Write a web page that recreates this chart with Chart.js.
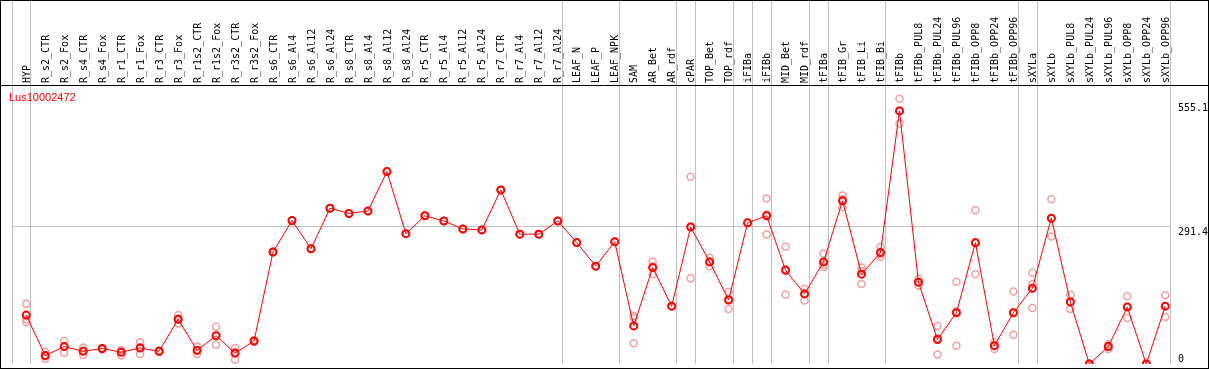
<!DOCTYPE html>
<html>
<head>
<meta charset="utf-8">
<script src="https://cdn.jsdelivr.net/npm/chart.js@4.4.0/dist/chart.umd.min.js"></script>
<style>
    html, body { margin: 0; padding: 0; background: #fff; }
    #wrap { width: 1209px; height: 370px; }
</style>
</head>
<body>
<div id="wrap"><canvas id="myChart" width="1209" height="370"></canvas></div>
<script>
const geneName = 'Lus10002472';

const categories = [
    'HYP', 'R_s2_CTR', 'R_s2_Fox', 'R_s4_CTR', 'R_s4_Fox', 'R_r1_CTR', 'R_r1_Fox', 'R_r3_CTR', 'R_r3_Fox',
    'R_r1s2_CTR', 'R_r1s2_Fox', 'R_r3s2_CTR', 'R_r3s2_Fox', 'R_s6_CTR', 'R_s6_Al4', 'R_s6_Al12', 'R_s6_Al24',
    'R_s8_CTR', 'R_s8_Al4', 'R_s8_Al12', 'R_s8_Al24', 'R_r5_CTR', 'R_r5_Al4', 'R_r5_Al12', 'R_r5_Al24',
    'R_r7_CTR', 'R_r7_Al4', 'R_r7_Al12', 'R_r7_Al24', 'LEAF_N', 'LEAF_P', 'LEAF_NPK', 'SAM', 'AR_Bet', 'AR_rdf',
    'cPAR', 'TOP_Bet', 'TOP_rdf', 'iFIBa', 'iFIBb', 'MID_Bet', 'MID_rdf', 'tFIBa', 'tFIB_Gr', 'tFIB_Li', 'tFIB_Bi',
    'tFIBb', 'tFIBb_PUL8', 'tFIBb_PUL24', 'tFIBb_PUL96', 'tFIBb_OPP8', 'tFIBb_OPP24', 'tFIBb_OPP96',
    'sXYLa', 'sXYLb', 'sXYLb_PUL8', 'sXYLb_PUL24', 'sXYLb_PUL96', 'sXYLb_OPP8', 'sXYLb_OPP24', 'sXYLb_OPP96'
];

// mean expression per sample (red line)
const meanValues = [
    104, 18, 37, 27, 33, 25, 34, 27, 95, 29, 60, 23, 49, 238, 305, 245, 331,
    320, 325, 409, 277, 315, 304, 287, 285, 370, 276, 276, 304, 258, 208, 260,
    81, 205, 123, 291, 217, 136, 300, 315, 199, 149, 217, 347, 191, 237,
    538, 174, 52, 109, 258, 39, 109, 161, 310, 132, 0, 37, 121, 0, 123
];

// replicates (pale circles)
const rep1 = [
    128, 26, 49, 35, 34, 30, 46, 29, 104, 37, 79, 34, 51, 239, 305, 246, 331,
    320, 325, 409, 277, 315, 304, 287, 285, 370, 276, 276, 304, 258, 208, 260,
    98, 218, 124, 398, 226, 153, 300, 352, 249, 160, 235, 358, 205, 249,
    564, 181, 81, 175, 327, 46, 154, 194, 350, 147, 1, 42, 144, 0, 146
];
const rep2 = [
    95, 17, 37, 28, 33, 28, 36, 27, 96, 29, 60, 26, 49, 238, 305, 245, 331,
    320, 325, 409, 277, 315, 304, 287, 285, 370, 276, 276, 304, 258, 208, 260,
    44, 191, 122, 182, 208, 117, 300, 275, 147, 135, 206, 333, 170, 228,
    511, 167, 20, 39, 191, 32, 62, 119, 271, 117, 0, 32, 98, 1, 100
];
const rep3 = [
    89, 11, 24, 19, 31, 18, 21, 26, 86, 21, 41, 9, 47, 238, 305, 245, 331,
    320, 325, 409, 277, 315, 304, 287, 285, 370, 276, 276, 304, 258, 208, 260,
    102, 207, 123, 293, 218, 138, 300, 318, 202, 151, 211, 350, 197, 234,
    539, 174, 55, 112, 256, 40, 110, 170, 309, 132, 0, 38, 122, 0, 123
];

const yTicks = [0, 291.4, 555.1];
// group separators: a line before these sample indices
const groupBreaks = [0, 1, 29, 32, 35, 36, 38, 39, 40, 42, 43, 46, 53, 54, 61];

const X_MIN = -0.75;
const X_MAX = categories.length - 0.75;
const GRID = '#c0c0c0';

function points(values) {
    return values.map((v, i) => ({x: i, y: v}));
}

const framePlugin = {
    id: 'frame',
    afterDraw(chart) {
        const ctx = chart.ctx;
        const y = chart.scales.y;
        ctx.save();
        ctx.strokeStyle = '#000';
        ctx.lineWidth = 1;
        ctx.strokeRect(0.5, 0.5, 1208, 368);
        ctx.beginPath();
        ctx.moveTo(0, 85.5);
        ctx.lineTo(1209, 85.5);
        ctx.stroke();

        ctx.fillStyle = '#000';
        ctx.font = '10px "DejaVu Sans Mono"';
        ctx.textAlign = 'left';
        yTicks.forEach((v) => {
            const py = y.getPixelForValue(v);
            if (v === 0) {
                ctx.textBaseline = 'bottom';
                ctx.fillText(String(v), 1178, py + 0.5);
            } else {
                ctx.textBaseline = 'top';
                ctx.fillText(String(v), 1178, py + 0.5);
            }
        });

        ctx.fillStyle = '#ff0000';
        ctx.font = '11px "Liberation Sans"';
        ctx.textBaseline = 'alphabetic';
        ctx.fillText(geneName, 9, 101);
        ctx.restore();
    }
};

const ctx = document.getElementById('myChart');
const myChart = new Chart(ctx, {
    type: 'line',
    data: {
        datasets: [{
            label: 'mean',
            data: points(meanValues),
            xAxisID: 'xTop',
            borderColor: '#ff0000',
            borderWidth: 1,
            pointRadius: 3.5,
            pointBorderWidth: 2,
            pointBorderColor: '#ff0000',
            pointBackgroundColor: 'rgba(0,0,0,0)',
            tension: 0,
            order: 0,
        },
        ...[rep1, rep2, rep3].map((rep, n) => ({
            label: 'rep' + (n + 1),
            data: points(rep),
            xAxisID: 'xTop',
            showLine: false,
            pointRadius: 3.5,
            pointBorderWidth: 1.5,
            pointBorderColor: '#f2a0a0',
            pointBackgroundColor: 'rgba(0,0,0,0)',
            order: 1,
        }))]
    },
    options: {
        responsive: false,
        animation: false,
        devicePixelRatio: 1,
        layout: {padding: {left: 12, right: 0, top: 0, bottom: 3}},
        plugins: {
            legend: {display: false},
            tooltip: {enabled: false},
        },
        scales: {
            xTop: {
                type: 'linear',
                position: 'top',
                min: X_MIN,
                max: X_MAX,
                afterBuildTicks: (s) => {
                    const t = categories.map((c, i) => ({value: i}))
                        .concat(groupBreaks.map((k) => ({value: k - 0.75})));
                    t.sort((a, b) => a.value - b.value);
                    s.ticks = t;
                },
                afterFit: (s) => { s.height = 85; },
                ticks: {
                    autoSkip: false,
                    minRotation: 90,
                    maxRotation: 90,
                    padding: -83,
                    labelOffset: 13,
                    color: '#000',
                    font: {family: 'DejaVu Sans Mono', size: 10},
                    callback: (v) => Number.isInteger(v) ? categories[v] : '',
                },
                grid: {
                    drawOnChartArea: true,
                    drawTicks: true,
                    tickLength: 85,
                    lineWidth: 1,
                    color: (c) => (c.tick && !Number.isInteger(c.tick.value)) ? GRID : 'rgba(0,0,0,0)',
                },
                border: {display: false},
            },
            y: {
                type: 'linear',
                position: 'right',
                min: 0,
                max: 593,
                afterBuildTicks: (s) => { s.ticks = yTicks.map((v) => ({value: v})); },
                afterFit: (s) => { s.width = 39; },
                ticks: {display: false},
                grid: {
                    drawTicks: false,
                    color: (c) => (c.tick && c.tick.value === 291.4) ? GRID : 'rgba(0,0,0,0)',
                },
                border: {display: false},
            }
        }
    },
    plugins: [framePlugin]
});
</script>
</body>
</html>
